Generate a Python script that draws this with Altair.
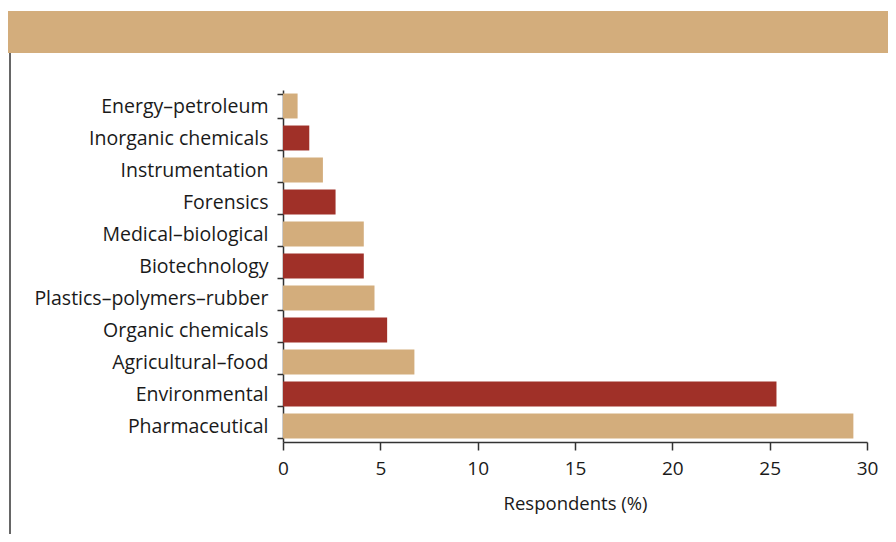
import altair as alt
import pandas as pd

categories = ["Energy–petroleum", "Inorganic chemicals", "Instrumentation", "Forensics",
              "Medical–biological", "Biotechnology", "Plastics–polymers–rubber",
              "Organic chemicals", "Agricultural–food", "Environmental", "Pharmaceutical"]
values = [0.75, 1.35, 2.05, 2.7, 4.15, 4.15, 4.7, 5.35, 6.75, 25.35, 29.3]
groups = ["tan", "red", "tan", "red", "tan", "red", "tan", "red", "tan", "red", "tan"]

TAN = "#D3AD7C"
RED = "#A03028"
FONT = "Open Sans"
TXT = "#1a1a1a"

df = pd.DataFrame({"category": categories, "value": values, "group": groups})

W, H = 584, 352

bars = alt.Chart(df).mark_bar().encode(
    y=alt.Y("category:N", sort=categories,
            scale=alt.Scale(paddingInner=0.22, paddingOuter=0.11),
            axis=alt.Axis(title=None, tickBand="extent", labelFontSize=19.5,
                          labelFont=FONT, labelColor=TXT, labelPadding=9,
                          labelLimit=400,
                          tickSize=6, tickColor="#333", domainColor="#333",
                          tickWidth=1.5, domainWidth=1.5)),
    x=alt.X("value:Q", scale=alt.Scale(domain=[0, 30], nice=False),
            axis=alt.Axis(title="Respondents (%)", values=[0, 5, 10, 15, 20, 25, 30],
                          labelFontSize=19, labelFont=FONT, labelColor=TXT,
                          labelFlush=False,
                          titleFontSize=18.5, titleFont=FONT, titleColor=TXT,
                          titleFontWeight="normal", titlePadding=16,
                          labelPadding=9, tickSize=8, tickColor="#333",
                          domainColor="#333", tickWidth=1.5, domainWidth=1.5,
                          grid=False)),
    color=alt.Color("group:N", scale=alt.Scale(domain=["tan", "red"], range=[TAN, RED]),
                    legend=None),
)

one = alt.Data(values=[{"a": 1}])

banner = alt.Chart(one).mark_rect(color=TAN).encode(
    x=alt.value(-275), x2=alt.value(620),
    y=alt.value(-79), y2=alt.value(-37),
)

left_line = alt.Chart(one).mark_rule(color="#333", strokeWidth=1.5).encode(
    x=alt.value(-273), y=alt.value(-37), y2=alt.value(460),
)

chart = alt.layer(banner, left_line, bars).properties(
    width=W, height=H,
    autosize=alt.AutoSizeParams(type="none"),
    padding={"left": 275, "top": 82, "right": 21, "bottom": 92},
).configure_view(stroke=None)

chart.save("out.html", embed_options={"renderer": "svg", "actions": False})
